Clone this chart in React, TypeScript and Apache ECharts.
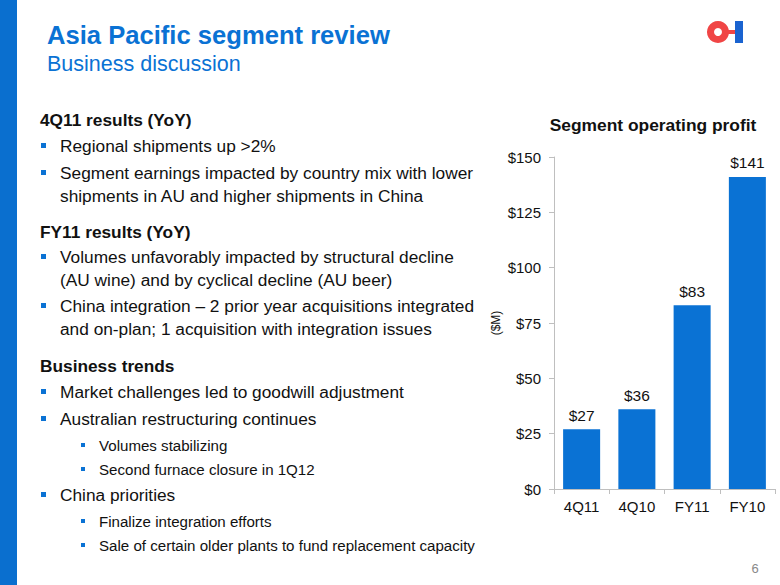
import React, { useEffect, useRef } from "react";
import * as echarts from "echarts";

const categories = ["4Q11", "4Q10", "FY11", "FY10"];
const profitValues = [27, 36, 83, 141];
const yTicks = [0, 25, 50, 75, 100, 125, 150];

const FONT = "'Liberation Sans', Arial, Helvetica, sans-serif";
const BLUE = "#0a72d4";
const TEXT = "#111111";

type Line = { kind: "head" | "b1" | "c1" | "b2"; text: string; y: number };
const bodyLines: Line[] = [
  { kind: "head", text: "4Q11 results (YoY)", y: 120 },
  { kind: "b1", text: "Regional shipments up >2%", y: 146 },
  { kind: "b1", text: "Segment earnings impacted by country mix with lower", y: 173 },
  { kind: "c1", text: "shipments in AU and higher shipments in China", y: 196 },
  { kind: "head", text: "FY11 results (YoY)", y: 232 },
  { kind: "b1", text: "Volumes unfavorably impacted by structural decline", y: 257 },
  { kind: "c1", text: "(AU wine) and by cyclical decline (AU beer)", y: 280 },
  { kind: "b1", text: "China integration \u2013 2 prior year acquisitions integrated", y: 306 },
  { kind: "c1", text: "and on-plan; 1 acquisition with integration issues", y: 329 },
  { kind: "head", text: "Business trends", y: 366 },
  { kind: "b1", text: "Market challenges led to goodwill adjustment", y: 392 },
  { kind: "b1", text: "Australian restructuring continues", y: 419 },
  { kind: "b2", text: "Volumes stabilizing", y: 445 },
  { kind: "b2", text: "Second furnace closure in 1Q12", y: 469 },
  { kind: "b1", text: "China priorities", y: 495 },
  { kind: "b2", text: "Finalize integration efforts", y: 521 },
  { kind: "b2", text: "Sale of certain older plants to fund replacement capacity", y: 545 },
];

export default function App() {
  const ref = useRef<HTMLDivElement>(null);
  useEffect(() => {
    if (!ref.current) return;
    const chart = echarts.init(ref.current, null, { renderer: "svg" });

    const graphics: any[] = [
      { type: "rect", shape: { x: 0, y: 0, width: 17, height: 585 }, style: { fill: "#0a6fcf" } },
      {
        type: "text", x: 47, y: 35,
        style: { text: "Asia Pacific segment review", font: `bold 25.6px ${FONT}`, fill: BLUE, verticalAlign: "middle" },
      },
      {
        type: "text", x: 47, y: 64,
        style: { text: "Business discussion", font: `21.5px ${FONT}`, fill: BLUE, verticalAlign: "middle" },
      },
      // logo
      { type: "ring", shape: { cx: 718, cy: 32, r: 11, r0: 4 }, style: { fill: "#f04545" } },
      { type: "rect", shape: { x: 728, y: 30, width: 8, height: 4 }, style: { fill: "#f04545" } },
      { type: "rect", shape: { x: 735, y: 21, width: 8, height: 22 }, style: { fill: "#1a63d0" } },
      {
        type: "text", x: 653, y: 125,
        style: { text: "Segment operating profit", font: `bold 17.4px ${FONT}`, fill: TEXT, align: "center", verticalAlign: "middle" },
      },
      {
        type: "text", x: 755, y: 568,
        style: { text: "6", font: `13px ${FONT}`, fill: "#888888", align: "center", verticalAlign: "middle" },
      },
    ];

    bodyLines.forEach((l) => {
      if (l.kind === "head") {
        graphics.push({
          type: "text", x: 40, y: l.y,
          style: { text: l.text, font: `bold 17.3px ${FONT}`, fill: TEXT, verticalAlign: "middle" },
        });
      } else if (l.kind === "b1" || l.kind === "c1") {
        if (l.kind === "b1") {
          graphics.push({ type: "rect", shape: { x: 41, y: l.y - 3, width: 5, height: 5 }, style: { fill: BLUE } });
        }
        graphics.push({
          type: "text", x: 60, y: l.y,
          style: { text: l.text, font: `17.3px ${FONT}`, fill: TEXT, verticalAlign: "middle" },
        });
      } else {
        graphics.push({ type: "rect", shape: { x: 81, y: l.y - 2, width: 4, height: 4 }, style: { fill: BLUE } });
        graphics.push({
          type: "text", x: 99, y: l.y,
          style: { text: l.text, font: `15.1px ${FONT}`, fill: TEXT, verticalAlign: "middle" },
        });
      }
    });

    chart.setOption({
      animation: false,
      backgroundColor: "#ffffff",
      grid: { left: 554, right: 5, top: 157, bottom: 96, containLabel: false },
      xAxis: {
        type: "category",
        data: categories,
        axisLine: { lineStyle: { color: "#bfbfbf", width: 1 } },
        axisTick: { show: true, length: 5, alignWithLabel: false, lineStyle: { color: "#bfbfbf" } },
        axisLabel: { color: TEXT, fontSize: 15, fontFamily: FONT, margin: 10 },
      },
      yAxis: {
        type: "value",
        min: yTicks[0],
        max: yTicks[yTicks.length - 1],
        interval: 25,
        name: "($M)",
        nameLocation: "middle",
        nameGap: 52,
        nameRotate: 90,
        nameTextStyle: { color: TEXT, fontSize: 12, fontFamily: FONT },
        axisLine: { show: true, lineStyle: { color: "#bfbfbf", width: 1 } },
        axisTick: { show: true, length: 5, lineStyle: { color: "#bfbfbf" } },
        splitLine: { show: false },
        axisLabel: { color: TEXT, fontSize: 15, fontFamily: FONT, margin: 13, formatter: (v: number) => `$${v}` },
      },
      series: [
        {
          type: "bar",
          data: profitValues,
          barWidth: "67%",
          itemStyle: { color: BLUE },
          label: {
            show: true, position: "top", distance: 6,
            color: TEXT, fontSize: 15.5, fontFamily: FONT,
            formatter: (p: any) => `$${p.value}`,
          },
        },
      ],
      graphic: graphics,
    });
    return () => chart.dispose();
  }, []);
  return <div ref={ref} style={{ position: "fixed", left: 0, top: 0, width: 780, height: 585 }} />;
}
